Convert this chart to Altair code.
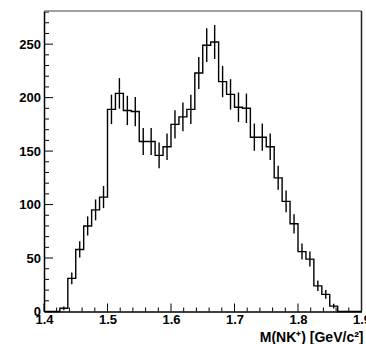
import altair as alt
import pandas as pd
import numpy as np

# ---- data ----
bin_start = 1.4
bin_width = 0.0125
counts = [0, 0, 3, 31, 58, 80, 95, 107, 189, 204,
          188, 187, 159, 159, 146, 154, 175, 182, 189, 223,
          249, 252, 215, 203, 191, 190, 163, 163, 154, 125,
          103, 82, 56, 49, 24, 16, 5, 0, 0, 0]
x_major = [1.4, 1.5, 1.6, 1.7, 1.8, 1.9]
x_minor = [1.42, 1.44, 1.46, 1.48, 1.52, 1.54, 1.56, 1.58, 1.62, 1.64, 1.66, 1.68,
           1.72, 1.74, 1.76, 1.78, 1.82, 1.84, 1.86, 1.88]
y_major = [0, 50, 100, 150, 200, 250]
y_minor = [10, 20, 30, 40, 60, 70, 80, 90, 110, 120, 130, 140, 160, 170, 180, 190,
           210, 220, 230, 240, 260, 270, 280]
x_title = "M(NK\u207a) [GeV/c\u00b2]"

W, H = 317.5, 300.5
FONT = "Liberation Sans"

n = len(counts)
edges = [bin_start + bin_width * i for i in range(n + 1)]
step_df = pd.DataFrame({"x": edges, "y": counts + [counts[-1]]})
c = np.array(counts, dtype=float)
err_df = pd.DataFrame({
    "x": [bin_start + bin_width * (i + 0.5) for i in range(n)],
    "y": c - np.sqrt(c),
    "y2": c + np.sqrt(c),
    "n": c,
})
err_df = err_df[err_df["n"] > 0]

xs = alt.Scale(domain=[1.4, 1.9], nice=False, zero=False)
ys = alt.Scale(domain=[0, 281], nice=False, zero=True)

x_axis = alt.Axis(values=x_major, format=".1f", ticks=False, tickSize=0, grid=False,
                  domainColor="black", domainWidth=1.5,
                  labelFont=FONT, labelFontWeight="bold", labelFontSize=13,
                  labelColor="black", labelPadding=2, labelFlush=False,
                  labelOverlap=False, labelBound=False,
                  title=x_title, titleFont=FONT, titleFontWeight="bold",
                  titleFontSize=14, titleColor="black", titleAnchor="end",
                  titleAlign="right", titleBaseline="alphabetic",
                  titleX=W + 1.5, titleY=29.5)
y_axis = alt.Axis(values=y_major, ticks=False, tickSize=0, grid=False,
                  domainColor="black", domainWidth=1.5,
                  labelFont=FONT, labelFontWeight="bold", labelFontSize=13,
                  labelColor="black", labelPadding=3.5, labelOverlap=False,
                  labelFlush=False, labelBound=False, title=None)


def X(field):
    return alt.X(field, type="quantitative", scale=xs, axis=x_axis)


def Y(field):
    return alt.Y(field, type="quantitative", scale=ys, axis=y_axis)


line = alt.Chart(step_df).mark_line(interpolate="step-after", color="black",
                                    strokeWidth=1.4).encode(x=X("x"), y=Y("y"))

err = alt.Chart(err_df).mark_rule(color="black", strokeWidth=1.4).encode(
    x=X("x"), y=Y("y"), y2="y2")

xmaj = alt.Chart(pd.DataFrame({"x": x_major})).mark_rule(color="black", strokeWidth=1).encode(
    x=X("x"), y=alt.value(H), y2=alt.value(H - 8))
xmin = alt.Chart(pd.DataFrame({"x": x_minor})).mark_rule(color="black", strokeWidth=1).encode(
    x=X("x"), y=alt.value(H), y2=alt.value(H - 4))
ymaj = alt.Chart(pd.DataFrame({"y": y_major})).mark_rule(color="black", strokeWidth=1).encode(
    y=Y("y"), x=alt.value(0), x2=alt.value(9))
ymin = alt.Chart(pd.DataFrame({"y": y_minor})).mark_rule(color="black", strokeWidth=1).encode(
    y=Y("y"), x=alt.value(0), x2=alt.value(5))

frame_top = alt.Chart(pd.DataFrame({"a": [0]})).mark_rule(color="#808080", strokeWidth=1.5).encode(
    x=alt.value(0), x2=alt.value(W), y=alt.value(0))
frame_right = alt.Chart(pd.DataFrame({"a": [0]})).mark_rule(color="#222222", strokeWidth=1.5).encode(
    x=alt.value(W), y=alt.value(0), y2=alt.value(H))

chart = alt.layer(line, err, xmaj, xmin, ymaj, ymin, frame_top, frame_right).properties(
    width=W, height=H,
    autosize="none",
    padding={"left": 44, "top": 11, "right": 4.5, "bottom": 32.5},
    background="white",
).configure_view(stroke=None)

chart.save("out.html", embed_options={"renderer": "svg", "actions": False})
